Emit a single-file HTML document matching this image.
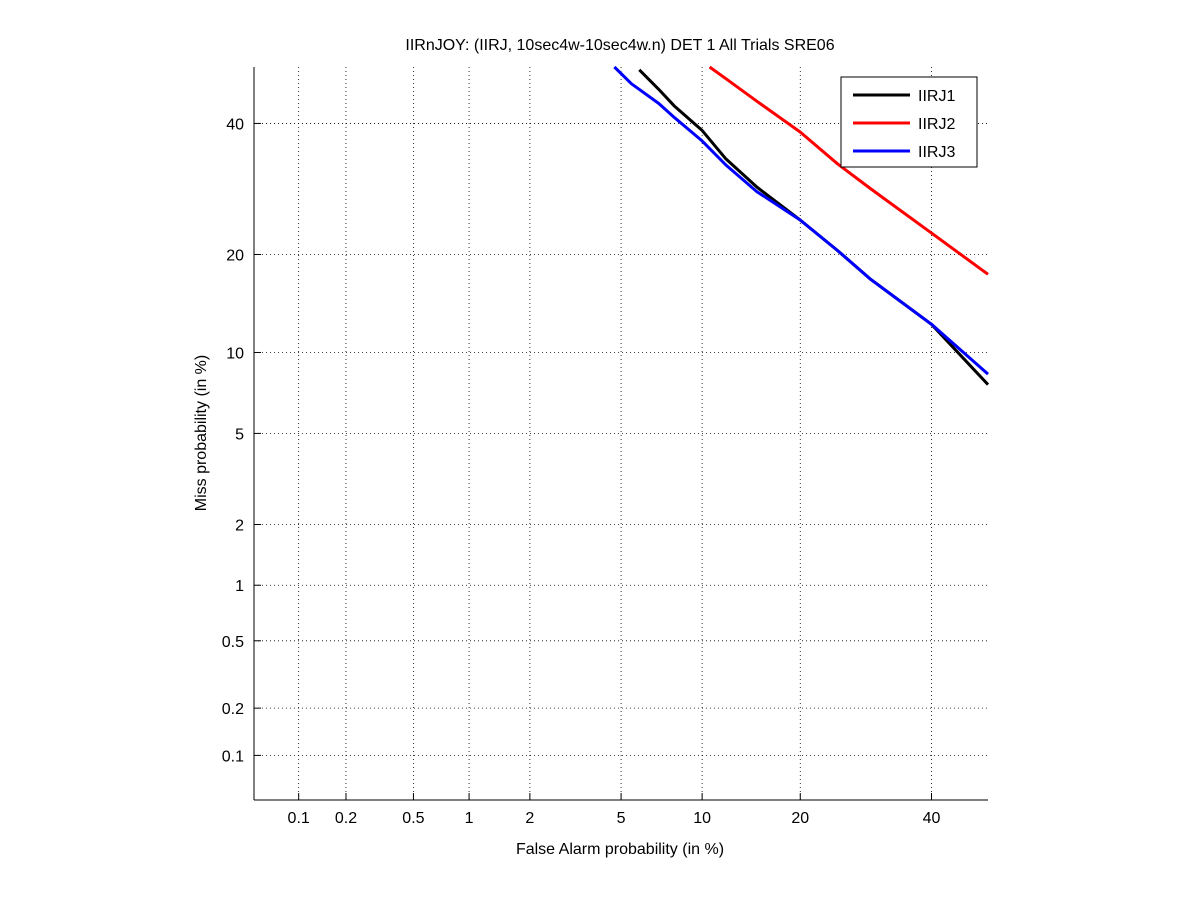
<!DOCTYPE html>
<html><head><meta charset="utf-8"><style>
body{margin:0;background:#fff;}
svg{display:block;font-family:"Liberation Sans",sans-serif;}
</style></head><body>
<svg id="chart" width="1201" height="900" viewBox="0 0 1201 900">
<rect x="0" y="0" width="1201" height="900" fill="#fff"/>
<g id="grid"></g><g id="axes"></g><g id="series"></g>
<text x="620" y="50" font-size="16" text-anchor="middle">IIRnJOY: (IIRJ, 10sec4w-10sec4w.n) DET 1 All Trials SRE06</text>
<text x="620" y="854" font-size="16" text-anchor="middle">False Alarm probability (in %)</text>
<text x="206" y="433" font-size="16" text-anchor="middle" transform="rotate(-90 206 433)">Miss probability (in %)</text>
<g id="legend"></g>
</svg>
<script>
const xTicks=[0.1,0.2,0.5,1,2,5,10,20,40];
const yTicks=[0.1,0.2,0.5,1,2,5,10,20,40];
const seriesNames=["IIRJ1","IIRJ2","IIRJ3"];
const seriesColors=["#000","#f00","#00f"];
const s1Fa=[5.9,7,8,10,12,15,20,25,30,40,50];
const s1Miss=[49.5,46,43,38.8,34,29.5,24.6,20.5,17,12.4,7.7];
const s2Fa=[10.6,12,15,20,25,30,40,50];
const s2Miss=[50,47.9,43.9,38.5,33.2,29.2,22.8,17.6];
const s3Fa=[4.7,5.5,7,8,10,12,15,20,25,30,40,50];
const s3Miss=[50,47,43.5,41,37,33,28.8,24.6,20.5,17,12.4,8.4];

function probit(p){
 const a=[-39.69683028665376,220.9460984245205,-275.9285104469687,138.3577518672690,-30.66479806614716,2.506628277459239];
 const b=[-54.47609879822406,161.5858368580409,-155.6989798598866,66.80131188771972,-13.28068155288572];
 const c=[-0.007784894002430293,-0.3223964580411365,-2.400758277161838,-2.549732539343734,4.374664141464968,2.938163982698783];
 const d=[0.007784695709041462,0.3224671290700398,2.445134137142996,3.754408661907416];
 let q,r;
 if(p<0.02425){q=Math.sqrt(-2*Math.log(p));return (((((c[0]*q+c[1])*q+c[2])*q+c[3])*q+c[4])*q+c[5])/((((d[0]*q+d[1])*q+d[2])*q+d[3])*q+1);}
 if(p>1-0.02425){return -probit(1-p);}
 q=p-0.5;r=q*q;
 return (((((a[0]*r+a[1])*r+a[2])*r+a[3])*r+a[4])*r+a[5])*q/(((((b[0]*r+b[1])*r+b[2])*r+b[3])*r+b[4])*r+1);
}
const X0=254,X1=988,Y0=67,Y1=800;
const pmin=probit(0.0005),pmax=probit(0.5);
function xs(v){return X0+(probit(v/100)-pmin)/(pmax-pmin)*(X1-X0);}
function ys(v){return Y1-(probit(v/100)-pmin)/(pmax-pmin)*(Y1-Y0);}
const NS="http://www.w3.org/2000/svg";
function mk(tag,attrs,parent){const e=document.createElementNS(NS,tag);for(const k in attrs)e.setAttribute(k,attrs[k]);parent.appendChild(e);return e;}
const grid=document.getElementById('grid'),axes=document.getElementById('axes'),ser=document.getElementById('series'),leg=document.getElementById('legend');
xTicks.forEach(v=>{const x=xs(v);
 const g=mk('line',{x1:x,x2:x,y1:Y0,y2:Y1,stroke:'#000','stroke-width':0.8,'stroke-dasharray':'1,3'},grid);
 
 
 mk('line',{x1:x,x2:x,y1:Y1,y2:Y1-7,stroke:'#000'},axes);
 const t=mk('text',{x:x,y:823,'font-size':16,'text-anchor':'middle'},axes);t.textContent=v;
 
 
});
yTicks.forEach(v=>{const y=ys(v);
 const g=mk('line',{x1:X0,x2:X1,y1:y,y2:y,stroke:'#000','stroke-width':0.8,'stroke-dasharray':'1,3'},grid);
 
 
 mk('line',{x1:X0,x2:X0+7,y1:y,y2:y,stroke:'#000'},axes);
 const t=mk('text',{x:244,y:y+6,'font-size':16,'text-anchor':'end'},axes);t.textContent=v;
 
 
});
mk('line',{x1:X0,x2:X0,y1:Y0,y2:Y1,stroke:'#000'},axes);
mk('line',{x1:X0,x2:X1,y1:Y1,y2:Y1,stroke:'#000'},axes);
const data=[[s1Fa,s1Miss],[s2Fa,s2Miss],[s3Fa,s3Miss]];
[1,0,2].forEach(i=>{
 const [fa,ms]=data[i];
 const pts=fa.map((f,j)=>xs(f).toFixed(1)+','+ys(ms[j]).toFixed(1)).join(' ');
 const p=mk('polyline',{points:pts,fill:'none',stroke:seriesColors[i],'stroke-width':3,'stroke-linejoin':'round'},ser);
 
 
});
mk('rect',{x:841,y:77,width:136,height:90,fill:'#fff',stroke:'#000'},leg);
seriesNames.forEach((n,i)=>{const y=95+i*28;
 const l=mk('line',{x1:853,x2:910,y1:y,y2:y,stroke:seriesColors[i],'stroke-width':3},leg);
 
 
 const t=mk('text',{x:918,y:y+6,'font-size':16},leg);t.textContent=n;
 
 
});
</script>
</body></html>
